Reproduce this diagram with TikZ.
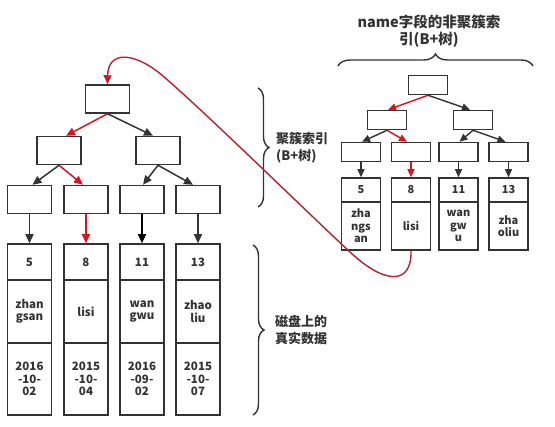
\documentclass[tikz,border=0pt]{standalone}
\usepackage{fontspec}
\setmainfont{Noto Sans CJK SC}
\usetikzlibrary{arrows.meta,decorations.pathreplacing}
\definecolor{ink}{HTML}{333333}
\definecolor{redarrow}{HTML}{D9141E}
\definecolor{curvered}{HTML}{B8222C}
\begin{document}
\begin{tikzpicture}[x=1pt,y=-1pt,
  box/.style={draw=ink,line width=1.5pt,fill=white,inner sep=0pt,text=ink,
    font=\bfseries\fontsize{11.5}{12.5}\selectfont,align=center},
  lbox/.style={box,minimum width=44pt,minimum height=28pt},
  ldat/.style={box,minimum width=44pt},
  rbox/.style={box,minimum width=39pt,minimum height=19pt},
  rdat/.style={box,minimum width=39pt,font=\bfseries\fontsize{11}{12.5}\selectfont},
  arr/.style={draw=ink,line width=1.5pt,-{Triangle[length=9pt,width=8pt]}},
  redarr/.style={draw=redarrow,line width=1.5pt,-{Triangle[length=9pt,width=8pt]}},
  rarr/.style={draw=ink,line width=1.4pt,-{Triangle[length=8pt,width=7pt]}},
  rredarr/.style={draw=redarrow,line width=1.4pt,-{Triangle[length=8pt,width=7pt]}},
  lab/.style={text=ink,font=\bfseries\fontsize{13}{17}\selectfont,align=left,inner sep=0pt},
  brc/.style={draw=ink,line width=1.4pt,decorate},
]
\useasboundingbox (0,0) rectangle (555,427);
\fill[white] (0,0) rectangle (555,427);

% ---------- left tree ----------
\node[lbox] (lr) at (107.5,99) {};
\node[lbox] (la) at (59,150.5) {};
\node[lbox] (lb) at (158,150.5) {};
\node[lbox] (l1) at (29.5,199.5) {};
\node[lbox] (l2) at (86,199.5) {};
\node[lbox] (l3) at (142,199.5) {};
\node[lbox] (l4) at (198,199.5) {};

% data columns
\node[ldat,minimum height=36pt] (d1a) at (29.5,262) {5};
\node[ldat,minimum height=63pt] (d1b) at (29.5,311.5) {zhan\\gsan};
\node[ldat,minimum height=72pt] (d1c) at (29.5,379) {2016\\-10-\\02};
\node[ldat,minimum height=36pt] (d2a) at (86,262) {8};
\node[ldat,minimum height=63pt] (d2b) at (86,311.5) {lisi};
\node[ldat,minimum height=72pt] (d2c) at (86,379) {2015\\-10-\\04};
\node[ldat,minimum height=36pt] (d3a) at (142,262) {11};
\node[ldat,minimum height=63pt] (d3b) at (142,311.5) {wan\\gwu};
\node[ldat,minimum height=72pt] (d3c) at (142,379) {2016\\-09-\\02};
\node[ldat,minimum height=36pt] (d4a) at (198,262) {13};
\node[ldat,minimum height=63pt] (d4b) at (198,311.5) {zhao\\liu};
\node[ldat,minimum height=72pt] (d4c) at (198,379) {2015\\-10-\\07};

\draw[redarr] (lr.south) -- ([xshift=7pt]la.north);
\draw[arr] (lr.south) -- ([xshift=-5pt]lb.north);
\draw[arr] (la.south) -- ([xshift=3pt]l1.north);
\draw[redarr] (la.south) -- ([xshift=-3pt]l2.north);
\draw[arr] (lb.south) -- ([xshift=1pt]l3.north);
\draw[arr] (lb.south) -- ([xshift=-5pt]l4.north);
\draw[arr] (l1.south) -- (d1a.north);
\draw[redarr] (l2.south) -- (d2a.north);
\draw[arr,draw=black] (l3.south) -- (d3a.north);
\draw[arr] (l4.south) -- (d4a.north);

% ---------- right tree ----------
\node[rbox] (rr) at (428,85) {};
\node[rbox] (ra) at (387,120) {};
\node[rbox] (rb) at (473,120) {};
\node[rbox] (r1) at (361,152) {};
\node[rbox] (r2) at (411,152) {};
\node[rbox] (r3) at (458.5,152) {};
\node[rbox] (r4) at (508.5,152) {};

\node[rdat,minimum height=24pt] (e1a) at (361,190) {5};
\node[rdat,minimum height=48pt] (e1b) at (361,226) {zha\\ngs\\an};
\node[rdat,minimum height=24pt] (e2a) at (411,190) {8};
\node[rdat,minimum height=48pt] (e2b) at (411,226) {lisi};
\node[rdat,minimum height=24pt] (e3a) at (458.5,190) {11};
\node[rdat,minimum height=48pt] (e3b) at (458.5,226) {wan\\gw\\u};
\node[rdat,minimum height=24pt] (e4a) at (508.5,190) {13};
\node[rdat,minimum height=48pt] (e4b) at (508.5,226) {zha\\oliu};

\draw[rredarr] (rr.south) -- ([xshift=1pt]ra.north);
\draw[rarr] (rr.south) -- ([xshift=-3pt]rb.north);
\draw[rarr] (ra.south) -- ([xshift=1pt]r1.north);
\draw[rredarr] (ra.south) -- ([xshift=-4pt]r2.north);
\draw[rarr] (rb.south) -- ([xshift=1pt]r3.north);
\draw[rarr] (rb.south) -- ([xshift=-3pt]r4.north);
\draw[rarr] (r1.south) -- (e1a.north);
\draw[rredarr] (r2.south) -- (e2a.north);
\draw[rarr] (r3.south) -- (e3a.north);
\draw[rarr] (r4.south) -- (e4a.north);

% ---------- braces and labels ----------
\draw[brc,decoration={brace,amplitude=11pt}] (258,88) -- (258,207);
\node[lab,anchor=west] (lab1) at (276,148) {聚簇索引\\(B+树)};
\draw[brc,decoration={brace,amplitude=11pt}] (253,245) -- (253,415);
\node[lab,anchor=west] (lab2) at (275,330) {磁盘上的\\真实数据};
\draw[brc,decoration={brace,amplitude=12pt}] (338,66) -- (533,66);
\node[lab,align=center,font=\bfseries\fontsize{14.5}{17}\selectfont] (lab3) at (429,31) {name字段的非聚簇索\\引(B+树)};

% ---------- red curve ----------
\draw[draw=curvered,line width=1.4pt,-{Triangle[length=9pt,width=8pt,fill=redarrow]}]
  (e2b.south) .. controls (412,285) and (385,285) .. (350,252)
  .. controls (310,215) and (205,112) .. (163,76)
  .. controls (135,52) and (108,50) .. (lr.north);
\end{tikzpicture}
\end{document}
